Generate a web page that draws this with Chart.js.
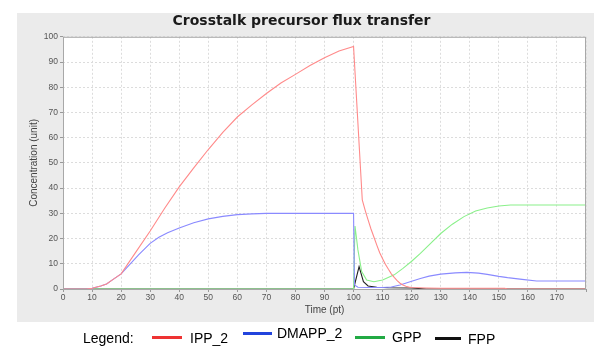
<!DOCTYPE html>
<html>
<head>
<meta charset="utf-8">
<script src="https://cdn.jsdelivr.net/npm/chart.js@4"></script>
<style>
  body { margin: 0; background: #fff; }
  #wrap { position: relative; width: 600px; height: 355px; }
  .lg { position: absolute; font: 14px 'Liberation Sans', Arial, sans-serif; color: #000; line-height: 16px; }
  .sw { position: absolute; height: 3px; }
</style>
</head>
<body>
<div id="wrap">
  <canvas id="chart" width="600" height="355"></canvas>
  <!-- legend under the panel -->
  <div class="lg" style="left:83px; top:330px">Legend:</div>
  <div class="sw" style="left:152px; top:336px; width:30px; background:#ee3333"></div>
  <div class="lg" style="left:190px; top:330px">IPP_2</div>
  <div class="sw" style="left:243px; top:332px; width:29px; background:#2244dd"></div>
  <div class="lg" style="left:277px; top:325px">DMAPP_2</div>
  <div class="sw" style="left:355px; top:336px; width:30px; background:#22aa44"></div>
  <div class="lg" style="left:392px; top:329px">GPP</div>
  <div class="sw" style="left:435px; top:337px; width:26px; background:#111"></div>
  <div class="lg" style="left:468px; top:331px">FPP</div>
</div>
<script>
// --- DATA --- //
const seriesNames = ['IPP_2', 'DMAPP_2', 'GPP', 'FPP']

const ippTime = [0, 8, 10, 13, 15, 17, 20, 25, 30, 35, 40, 45, 50, 55, 60, 65, 70, 75, 80, 85, 90, 95, 100,
  101, 102, 103, 104, 105, 106, 107, 108, 109, 110, 111, 112, 113, 114, 115, 116, 117, 118, 119, 120,
  125, 130, 152, 153, 180]
const ippValues = [0, 0, 0.3, 1.2, 2, 3.6, 6, 14.5, 23, 32, 40.5, 48, 55.3, 62.1, 68.2, 73, 77.5, 81.7, 85.1, 88.6, 91.7, 94.4, 96.2,
  75.9, 55.6, 35.3, 31.2, 27.4, 23.8, 20.6, 17.4, 14.4, 12, 9.7, 7.8, 6, 4.6, 3.3, 2.3, 1.6, 1.1, 0.8, 0.6,
  0.4, 0.3, 0.3, 0, 0]

const dmappTime = [0, 8, 10, 13, 15, 17, 20, 23, 26, 30, 33, 36, 40, 45, 50, 55, 60, 65, 70,
  100, 100.3, 101.5, 105, 110, 113, 116, 120, 123, 126, 130, 135, 139, 143, 146, 150, 153, 158, 163, 180]
const dmappValues = [0, 0, 0.3, 1.2, 2, 3.6, 6, 9.8, 13.5, 18.1, 20.5, 22.3, 24.2, 26.3, 27.8, 28.8, 29.5, 29.8, 30,
  30, 1.6, 0.7, 0.6, 0.6, 0.8, 1.6, 3.1, 4.2, 5.1, 5.9, 6.4, 6.6, 6.3, 5.8, 5.0, 4.5, 3.8, 3.2, 3.2]

const gppTime = [0, 100, 100.5, 101.5, 102.8, 104.5, 107, 110, 114, 117, 120, 123, 126, 130, 134, 138, 142, 146, 150, 154, 180]
const gppValues = [0, 0, 25, 15.5, 6.9, 3.6, 2.9, 3.6, 5.6, 8.2, 11, 14.1, 17.5, 22, 25.7, 28.7, 30.9, 32.1, 32.9, 33.3, 33.3]

const fppTime = [0, 100, 101.9, 103.4, 105, 108, 112, 120, 125, 180]
const fppValues = [0, 0, 8.9, 2.9, 1.2, 0.7, 0.5, 0.4, 0, 0]

const lineColors = ['#ff8a8a', '#8a8aff', '#8af08a', '#222222']

// junta tempo e valor em pontos {x, y}
const toPoints = (times, values) => times.map((t, i) => ({ x: t, y: values[i] }))

const allSeries = [
  toPoints(ippTime, ippValues),
  toPoints(dmappTime, dmappValues),
  toPoints(gppTime, gppValues),
  toPoints(fppTime, fppValues)
]

// --- BACKGROUND | PANEL --- //
const panelPlugin = {
  id: 'panel',
  beforeDraw: chart => {
    const ctx = chart.ctx
    const area = chart.chartArea
    ctx.save()
    ctx.fillStyle = '#ffffff'
    ctx.fillRect(0, 0, chart.width, chart.height)
    ctx.fillStyle = '#ebebeb'
    ctx.fillRect(17, 13, 577, 309)
    ctx.fillStyle = '#ffffff'
    ctx.fillRect(area.left, area.top, area.right - area.left, area.bottom - area.top)
    ctx.restore()
  },
  afterDraw: chart => {
    const ctx = chart.ctx
    const area = chart.chartArea
    ctx.save()
    ctx.strokeStyle = '#a8a8a8'
    ctx.lineWidth = 1
    ctx.strokeRect(area.left + 0.5, area.top + 0.5, area.right - area.left - 1, area.bottom - area.top)
    ctx.restore()
  }
}

const tickFont = { family: "'Liberation Sans', Arial, sans-serif", size: 8.5 }
const titleFont = { family: "'Liberation Sans', Arial, sans-serif", size: 10 }

new Chart(document.getElementById('chart'), {
  type: 'line',
  data: {
    datasets: allSeries.map((pts, i) => ({
      label: seriesNames[i],
      data: pts,
      borderColor: lineColors[i],
      backgroundColor: lineColors[i],
      borderWidth: 1.1,
      pointRadius: 0,
      tension: 0,
      fill: false
    }))
  },
  options: {
    responsive: false,
    animation: false,
    layout: { padding: { top: 0, left: 17, right: 14, bottom: 33 } },
    plugins: {
      legend: { display: false },
      tooltip: { enabled: false },
      title: {
        display: true,
        text: 'Crosstalk precursor flux transfer',
        color: '#1a1a1a',
        font: { family: "'DejaVu Sans', sans-serif", size: 14, weight: 'bold' },
        padding: { top: 13, bottom: 7 }
      }
    },
    scales: {
      x: {
        type: 'linear',
        min: 0,
        max: 180,
        ticks: {
          stepSize: 10,
          color: '#555',
          font: tickFont,
          padding: 1,
          maxRotation: 0,
          callback: v => (v === 180 ? '' : v)
        },
        grid: { color: '#dcdcdc', tickColor: '#999', tickLength: 3, tickBorderDash: [] },
        border: { display: false, dash: [2, 2] },
        title: { display: true, text: 'Time (pt)', color: '#444', font: titleFont, padding: { top: 0, bottom: 6 } },
        afterFit: scale => { scale.height = 33 }
      },
      y: {
        min: 0,
        max: 100,
        ticks: { stepSize: 10, color: '#555', font: tickFont, padding: 2 },
        grid: { color: '#dcdcdc', tickColor: '#999', tickLength: 3, tickBorderDash: [] },
        border: { display: false, dash: [2, 2] },
        title: { display: true, text: 'Concentration (unit)', color: '#444', font: titleFont, padding: { top: 11, bottom: 0 } },
        afterFit: scale => { scale.width = 46 }
      }
    }
  },
  plugins: [panelPlugin]
})
</script>
</body>
</html>
